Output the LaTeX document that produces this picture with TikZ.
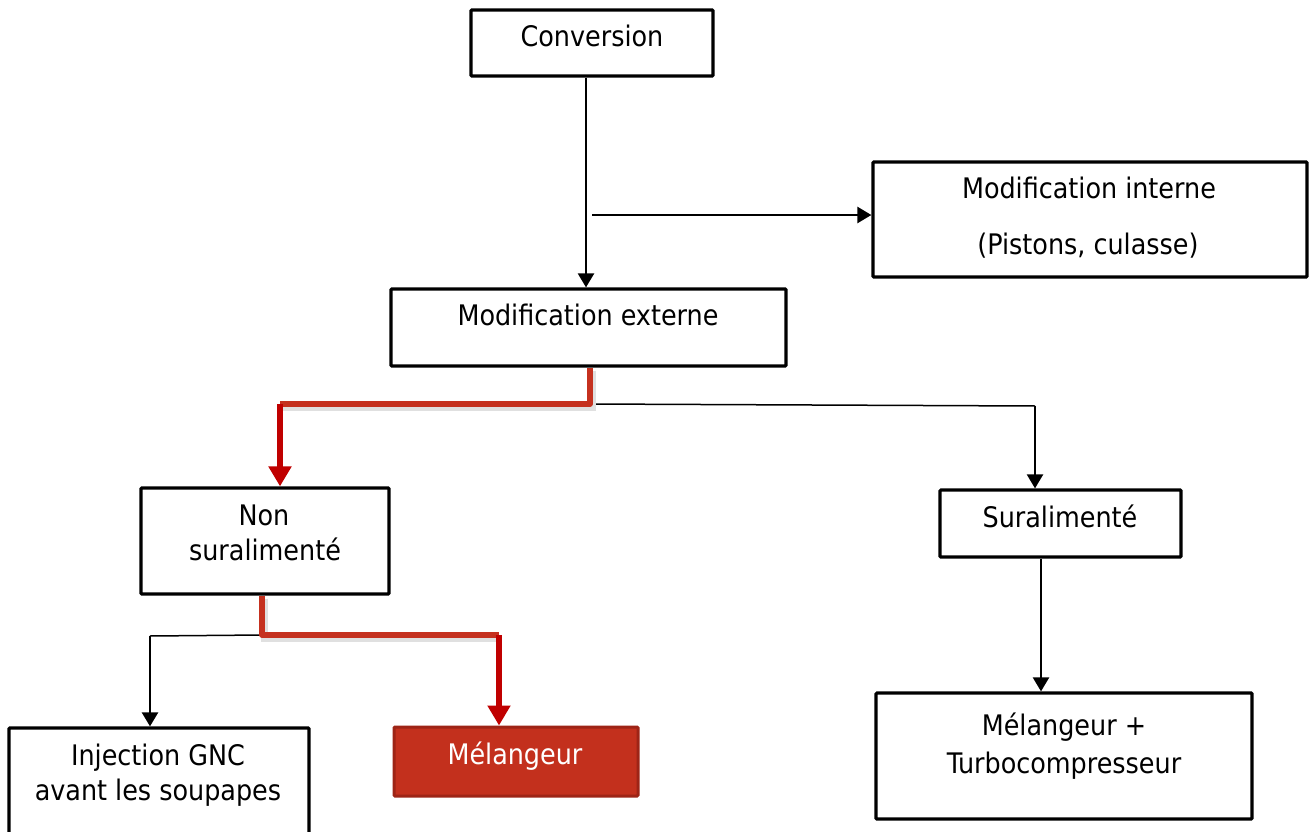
\documentclass[tikz,border=0pt]{standalone}
\usepackage{fontspec}
\setmainfont{DejaVu Sans Condensed}
\usetikzlibrary{arrows.meta}
\definecolor{redfill}{HTML}{C3301D}
\definecolor{redborder}{HTML}{9E2416}
\definecolor{redline}{HTML}{C5311F}
\definecolor{redarrow}{HTML}{C00000}
\begin{document}
\begin{tikzpicture}[x=1pt,y=-1pt,
  box/.style={draw=black,line width=3.2pt,rounded corners=1pt,inner sep=0pt},
  redbox/.style={draw=redborder,fill=redfill,line width=3pt,rounded corners=1pt,inner sep=0pt},
  txt/.style={anchor=base,inner sep=0pt,font=\fontsize{28.3}{33}\selectfont},
  conn/.style={line width=2.3pt,-{Triangle[length=14pt,width=16pt]}},
  thinline/.style={line width=1.5pt},
  redconn/.style={line width=5.5pt,draw=redline,line join=round},
  redarr/.style={line width=6pt,draw=redarrow,-{Triangle[length=20pt,width=22pt]}},
  shadowline/.style={line width=7pt,draw=black!12,transform canvas={shift={(2pt,-3pt)}}}
]
\clip (0,0) rectangle (1309,832);
\fill[white] (0,0) rectangle (1309,832);

% boxes
\node[box,minimum width=242pt,minimum height=66pt] (conv) at (592,43) {};
\node[box,minimum width=434pt,minimum height=115pt] (modint) at (1090,219.5) {};
\node[box,minimum width=395pt,minimum height=77pt] (modext) at (588.5,327.5) {};
\node[box,minimum width=248pt,minimum height=106pt] (nonsur) at (265,541) {};
\node[box,minimum width=241pt,minimum height=67pt] (sur) at (1060.5,523.5) {};
\node[box,minimum width=376pt,minimum height=126pt] (turbo) at (1064,756) {};
\node[box,minimum width=300pt,minimum height=140pt] (inj) at (159,798) {};
\node[redbox,minimum width=244pt,minimum height=69pt] (mel) at (516,761.5) {};

% texts
\node[txt] (tconv) at (592,47) {Conversion};
\node[txt] (tmodint1) at (1089,198) {Modification interne};
\node[txt] (tmodint2) at (1088,254) {(Pistons, culasse)};
\node[txt] (tmodext) at (588,325) {Modification externe};
\node[txt] (tnon1) at (264,525) {Non};
\node[txt] (tnon2) at (265,560) {suralimenté};
\node[txt] (tsur) at (1060,527) {Suralimenté};
\node[txt] (tturbo1) at (1064,735) {Mélangeur +};
\node[txt] (tturbo2) at (1064,773) {Turbocompresseur};
\node[txt] (tinj1) at (158,765) {Injection GNC};
\node[txt] (tinj2) at (158,800) {avant les soupapes};
\node[txt,text=white] (tmel) at (515,764) {Mélangeur};

% coordinates for connector corners
\coordinate (v0) at (586,0);
\coordinate (h0) at (592,215);
\coordinate (r1) at (590,404);
\coordinate (r2) at (280,404);
\coordinate (b1) at (1035,406);
\coordinate (r3) at (262,635);
\coordinate (r4) at (499,635);
\coordinate (b2) at (150,636);
\coordinate (v1) at (1041,0);

% black connectors
\draw[conn] (conv.south -| v0) -- (modext.north -| v0);
\draw[conn] (h0) -- (h0 -| modint.west);
\draw[thinline] (r1) -- (b1);
\draw[conn] (b1) -- (b1 |- sur.north);
\draw[thinline] (r3) -- (b2);
\draw[conn] (b2) -- (b2 |- inj.north);
\draw[conn] (sur.south -| v1) -- (turbo.north -| v1);

% red connectors with shadow
\draw[shadowline] (modext.south -| r1) -- (r1) -- (r2);
\draw[shadowline] (nonsur.south -| r3) -- (r3) -- (r4);
\draw[redconn] (modext.south -| r1) -- (r1) -- (r2);
\draw[redarr] (r2) -- (r2 |- nonsur.north);
\draw[redconn] (nonsur.south -| r3) -- (r3) -- (r4);
\draw[redarr] (r4) -- (r4 |- mel.north);
\end{tikzpicture}
\end{document}
